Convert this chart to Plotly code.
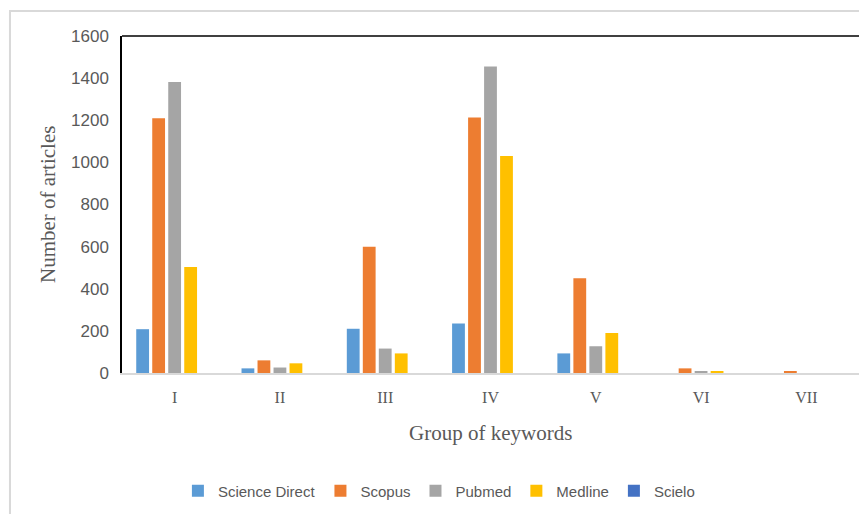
import plotly.graph_objects as go

groups = ["I", "II", "III", "IV", "V", "VI", "VII"]
science_direct = [208, 22, 210, 235, 93, 0, 0]
scopus = [1210, 60, 600, 1213, 450, 22, 7]
pubmed = [1382, 26, 116, 1455, 127, 8, 0]
medline = [503, 46, 93, 1030, 190, 8, 0]
scielo = [0, 0, 0, 0, 0, 0, 0]

series = [
    ("Science Direct", science_direct, "#5b9bd5"),
    ("Scopus", scopus, "#ed7d31"),
    ("Pubmed", pubmed, "#a5a5a5"),
    ("Medline", medline, "#ffc000"),
    ("Scielo", scielo, "#4472c4"),
]

fig = go.Figure()
for name, vals, col in series:
    fig.add_trace(go.Bar(x=groups, y=vals, name=name, marker=dict(color=col, line=dict(width=0))))

grey = "#595959"
fig.update_layout(
    width=859, height=506,
    margin=dict(l=114, r=8, t=28, b=141, autoexpand=False),
    paper_bgcolor="white", plot_bgcolor="white",
    barmode="group", bargap=0.24, bargroupgap=0.2,
    showlegend=True,
    legend=dict(orientation="h", x=0.43, xanchor="center", y=-0.35, yanchor="middle",
                font=dict(family="Liberation Sans", size=15, color=grey),
                itemwidth=30, tracegroupgap=0),
    xaxis=dict(showgrid=False, showline=True, linecolor="#d9d9d9", linewidth=1.5,
               tickfont=dict(family="Liberation Serif", size=16, color=grey),
               ticklabelstandoff=9, zeroline=False, automargin=False),
    yaxis=dict(range=[0, 1600], dtick=200, showgrid=False, showline=True, mirror=True,
               linecolor="black", linewidth=1.5, zeroline=False, automargin=False,
               tickfont=dict(family="Liberation Sans", size=17, color=grey),
               ticklabelstandoff=8),
    shapes=[
        dict(type="line", xref="paper", yref="paper", x0=0, x1=1, y0=1, y1=1,
             line=dict(color="black", width=1.5)),
        dict(type="rect", xref="paper", yref="paper", x0=-0.152, x1=1.03, y0=-0.45, y1=1.074,
             line=dict(color="#d9d9d9", width=2), layer="below"),
    ],
    annotations=[
        dict(text="Group of keywords", xref="paper", yref="paper", x=0.5, y=-0.178,
             xanchor="center", yanchor="middle", showarrow=False,
             font=dict(family="Liberation Serif", size=21, color=grey)),
        dict(text="Number of articles", xref="paper", yref="paper", x=-0.1004, y=0.4985,
             xanchor="center", yanchor="middle", showarrow=False, textangle=-90,
             font=dict(family="Liberation Serif", size=21, color=grey)),
    ],
)

fig.write_html("out.html")
